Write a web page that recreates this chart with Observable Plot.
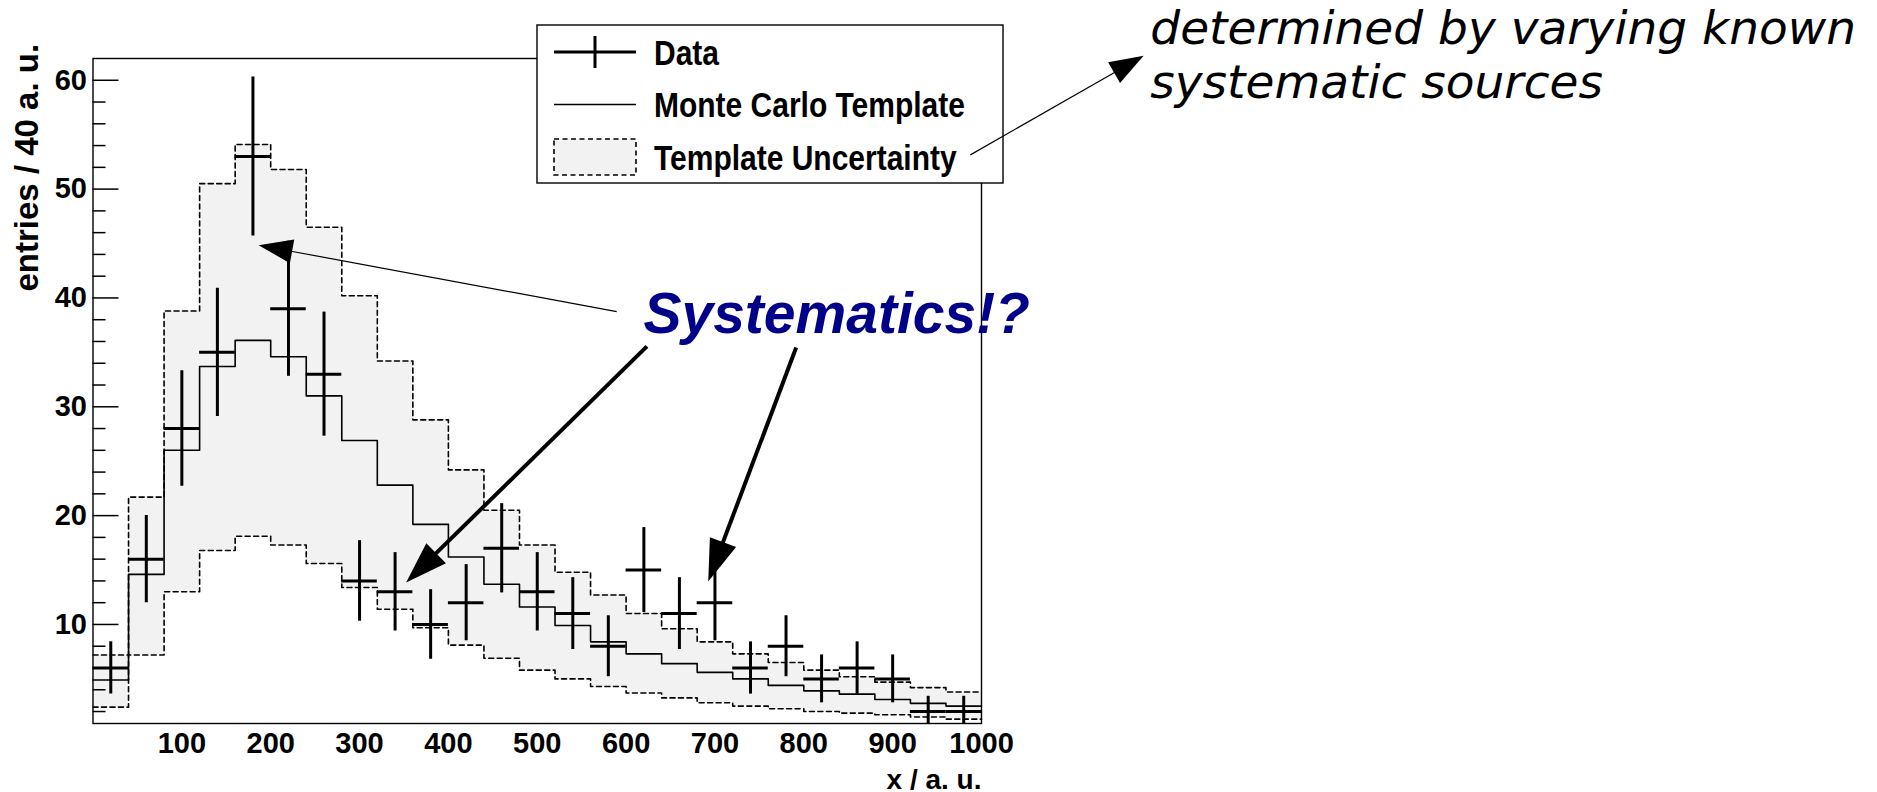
<!DOCTYPE html>
<html>
<head>
<meta charset="utf-8">
<script src="https://cdn.jsdelivr.net/npm/d3@7"></script>
<script src="https://cdn.jsdelivr.net/npm/@observablehq/plot@0.6"></script>
<style>
  html, body { margin: 0; padding: 0; background: #fff; }
  #chart svg { display: block; }
</style>
</head>
<body>
<div id="chart"></div>
<script>
// Histogram: 25 bins of 40 a.u. each, from 0 to 1000
const binWidth = 40;
const binLow = [0, 40, 80, 120, 160, 200, 240, 280, 320, 360, 400, 440, 480,
                520, 560, 600, 640, 680, 720, 760, 800, 840, 880, 920, 960];

// Observed entries per bin and their statistical errors
const dataCounts = [6, 16, 28, 35, 53, 39, 33, 14, 13, 10, 12, 17, 13,
                    11, 8, 15, 11, 12, 6, 8, 5, 6, 5, 2, 2];
const dataErrors = [2.4, 4.0, 5.3, 5.9, 7.3, 6.2, 5.7, 3.7, 3.6, 3.2, 3.5, 4.1, 3.6,
                    3.3, 2.8, 3.9, 3.3, 3.5, 2.4, 2.8, 2.2, 2.4, 2.2, 1.4, 1.4];

// Monte Carlo template prediction per bin
const mcTemplate = [4.9, 14.6, 26.0, 33.7, 36.1, 34.6, 31.0, 26.9, 22.8, 19.2, 16.2, 13.7, 11.6,
                    9.9, 8.4, 7.3, 6.4, 5.6, 5.0, 4.4, 3.9, 3.6, 3.1, 2.75, 2.5];

// Template uncertainty band (upper and lower edges)
const bandUpper = [7.2, 21.7, 38.8, 50.5, 54.1, 51.8, 46.5, 40.2, 34.2, 28.8, 24.2, 20.5, 17.3,
                   14.8, 12.7, 11.0, 9.6, 8.4, 7.3, 6.5, 5.8, 5.2, 4.7, 4.2, 3.8];
const bandLower = [2.4, 7.2, 13.0, 16.8, 18.1, 17.3, 15.6, 13.4, 11.4, 9.7, 8.1, 6.9, 5.8,
                   5.0, 4.3, 3.7, 3.25, 2.8, 2.5, 2.25, 2.0, 1.85, 1.7, 1.5, 1.3];

// Axis ticks
const xTickLabels = [100, 200, 300, 400, 500, 600, 700, 800, 900, 1000];
const yMajorTicks = [10, 20, 30, 40, 50, 60];
const yMinorTicks = [2, 4, 6, 8, 12, 14, 16, 18, 22, 24, 26, 28, 32, 34, 36, 38,
                     42, 44, 46, 48, 52, 54, 56, 58];

// Text
const xTitle = "x / a. u.";
const yTitle = "entries / 40 a. u.";
const legendLabels = ["Data", "Monte Carlo Template", "Template Uncertainty"];
const calloutLabel = "Systematics!?";
const noteLabel = "determined by varying known\nsystematic sources";

// Annotation anchors in axis units (x in a.u., y in entries)
const calloutAnchor = [619.5, 36.8];
const noteAnchor = [1190, 58.4];
const thinArrows = [
  {from: [590, 38.7], to: [187, 44.8]},
  {from: [988, 53.1], to: [1183, 62.2]}
];
const thickArrows = [
  {from: [624, 35.5], to: [353, 13.8]},
  {from: [792, 35.4], to: [693, 13.9]}
];

// ---- derived tables ----
const edges = binLow.map((x, i) => ({x, mc: mcTemplate[i], hi: bandUpper[i], lo: bandLower[i]}));
const last = binLow.length - 1;
edges.push({x: binLow[last] + binWidth, mc: mcTemplate[last], hi: bandUpper[last], lo: bandLower[last]});

const bins = binLow.map((x, i) => ({
  x1: x, x2: x + binWidth, xc: x + binWidth / 2,
  n: dataCounts[i], lo: dataCounts[i] - dataErrors[i], hi: dataCounts[i] + dataErrors[i]
}));

const ROOT_FONT = "'Liberation Sans', Arial, Helvetica, sans-serif";
const STRETCH = 1.17;   // taller-than-wide lettering of the histogram text
const W = 1877, H = 792;
const M = {left: 92.5, right: 896, top: 58, bottom: 69};
const frameW = W - M.left - M.right;

// filled arrow drawn through the plot scales
function arrows(list, lineWidth, headLen, headWidth) {
  return (index, scales) => {
    const g = d3.create("svg:g");
    for (const a of list) {
      const x1 = scales.x(a.from[0]), y1 = scales.y(a.from[1]);
      const x2 = scales.x(a.to[0]), y2 = scales.y(a.to[1]);
      const ang = Math.atan2(y2 - y1, x2 - x1);
      const c = Math.cos(ang), s = Math.sin(ang);
      const bx = x2 - headLen * c, by = y2 - headLen * s;
      g.append("line")
        .attr("x1", x1).attr("y1", y1).attr("x2", bx + c).attr("y2", by + s)
        .attr("stroke", "#000").attr("stroke-width", lineWidth);
      const hw = headWidth / 2;
      g.append("path")
        .attr("d", `M${x2},${y2}L${bx - hw * s},${by + hw * c}L${bx + hw * s},${by - hw * c}Z`)
        .attr("fill", "#000");
    }
    return g.node();
  };
}

// legend box at the top of the frame
function legend() {
  const g = d3.create("svg:g");
  const box = {x: 537, y: 25, w: 466, h: 158};
  const sx1 = 554, sx2 = 636, tx = 654;
  const rows = [52, 104.5, 157];
  g.append("rect").attr("x", box.x).attr("y", box.y).attr("width", box.w).attr("height", box.h)
    .attr("fill", "#fff").attr("stroke", "#000").attr("stroke-width", 1.4);
  // Data: cross
  g.append("line").attr("x1", sx1).attr("x2", sx2).attr("y1", rows[0]).attr("y2", rows[0])
    .attr("stroke", "#000").attr("stroke-width", 3);
  g.append("line").attr("x1", (sx1 + sx2) / 2).attr("x2", (sx1 + sx2) / 2)
    .attr("y1", rows[0] - 16).attr("y2", rows[0] + 16).attr("stroke", "#000").attr("stroke-width", 3);
  // Monte Carlo: thin line
  g.append("line").attr("x1", sx1).attr("x2", sx2).attr("y1", rows[1]).attr("y2", rows[1])
    .attr("stroke", "#000").attr("stroke-width", 1.6);
  // Uncertainty: dashed filled box
  g.append("rect").attr("x", sx1).attr("y", rows[2] - 18).attr("width", sx2 - sx1).attr("height", 36)
    .attr("fill", "#f2f2f2").attr("stroke", "#000").attr("stroke-width", 1.6)
    .attr("stroke-dasharray", "5,3.5");
  legendLabels.forEach((label, i) => {
    g.append("text")
      .attr("transform", `translate(${tx},${rows[i] + 12.5}) scale(1,${STRETCH})`)
      .attr("text-anchor", "start")
      .attr("font-family", ROOT_FONT).attr("font-weight", "bold").attr("font-size", 30)
      .attr("fill", "#000").text(label);
  });
  return g.node();
}

const rootText = {fontFamily: ROOT_FONT, fontWeight: "bold", fill: "#000", ariaLabel: "histogram text"};

const chart = Plot.plot({
  width: W, height: H,
  marginLeft: M.left, marginRight: M.right, marginTop: M.top, marginBottom: M.bottom,
  x: {domain: [0, 1000], axis: null},
  y: {domain: [0.9, 62], axis: null},
  style: {background: "#fff", overflow: "visible"},
  marks: [
    // template uncertainty band
    Plot.areaY(edges, {x: "x", y1: "lo", y2: "hi", curve: "step-after", fill: "#f2f2f2"}),
    Plot.line(edges, {x: "x", y: "hi", curve: "step-after", stroke: "#000", strokeWidth: 1.6, strokeDasharray: "5,3.5"}),
    Plot.line(edges, {x: "x", y: "lo", curve: "step-after", stroke: "#000", strokeWidth: 1.6, strokeDasharray: "5,3.5"}),
    // Monte Carlo template
    Plot.line(edges, {x: "x", y: "mc", curve: "step-after", stroke: "#000", strokeWidth: 1.6}),
    // data points with error bars
    Plot.ruleY(bins, {y: "n", x1: "x1", x2: "x2", stroke: "#000", strokeWidth: 3}),
    Plot.ruleX(bins, {x: "xc", y1: "lo", y2: "hi", stroke: "#000", strokeWidth: 3, clip: true}),
    // frame and y ticks
    Plot.frame({stroke: "#000", strokeWidth: 1.4}),
    Plot.ruleY(yMajorTicks, {insetRight: frameW - 26, stroke: "#000", strokeWidth: 1.5}),
    Plot.ruleY(yMinorTicks, {insetRight: frameW - 13, stroke: "#000", strokeWidth: 1.5}),
    // tick labels and axis titles
    Plot.text(yMajorTicks, {y: d => d, text: d => String(d), frameAnchor: "left", dx: -6,
      textAnchor: "end", lineAnchor: "middle", fontSize: 29, ...rootText}),
    Plot.text(xTickLabels, {x: d => d, text: d => String(d), frameAnchor: "bottom", dy: 29,
      textAnchor: "middle", lineAnchor: "bottom", fontSize: 29, ...rootText}),
    Plot.text([xTitle], {frameAnchor: "bottom-right", dy: 65, textAnchor: "end",
      lineAnchor: "bottom", fontSize: 28, ...rootText}),
    Plot.text([yTitle], {frameAnchor: "bottom-left", dx: -55, dy: -432, rotate: -90,
      textAnchor: "start", lineAnchor: "bottom", fontSize: 33,
      fontFamily: ROOT_FONT, fontWeight: "bold", fill: "#000"}),
    // legend
    legend,
    // annotations
    arrows(thinArrows, 1.2, 34, 24),
    arrows(thickArrows, 4, 42, 28),
    Plot.text([calloutLabel], {x: calloutAnchor[0], y: calloutAnchor[1], textAnchor: "start",
      lineAnchor: "bottom", fontFamily: ROOT_FONT, fontWeight: "bold", fontStyle: "italic",
      fontSize: 57, fill: "#000088"}),
    Plot.text([noteLabel], {x: noteAnchor[0], y: noteAnchor[1], textAnchor: "start",
      lineAnchor: "bottom", lineHeight: 1.15, fontFamily: "'DejaVu Sans', sans-serif",
      fontStyle: "italic", fontSize: 47, fill: "#000"})
  ]
});

// give the histogram lettering its tall proportions
chart.querySelectorAll('g[aria-label="histogram text"] text').forEach(t => {
  const tr = t.getAttribute("transform") || "";
  const sc = ` scale(1,${STRETCH})`;
  t.setAttribute("transform", tr.includes("rotate")
    ? tr.replace(/\s*rotate\(/, `${sc} rotate(`)
    : tr + sc);
});

document.getElementById("chart").appendChild(chart);
</script>
</body>
</html>
